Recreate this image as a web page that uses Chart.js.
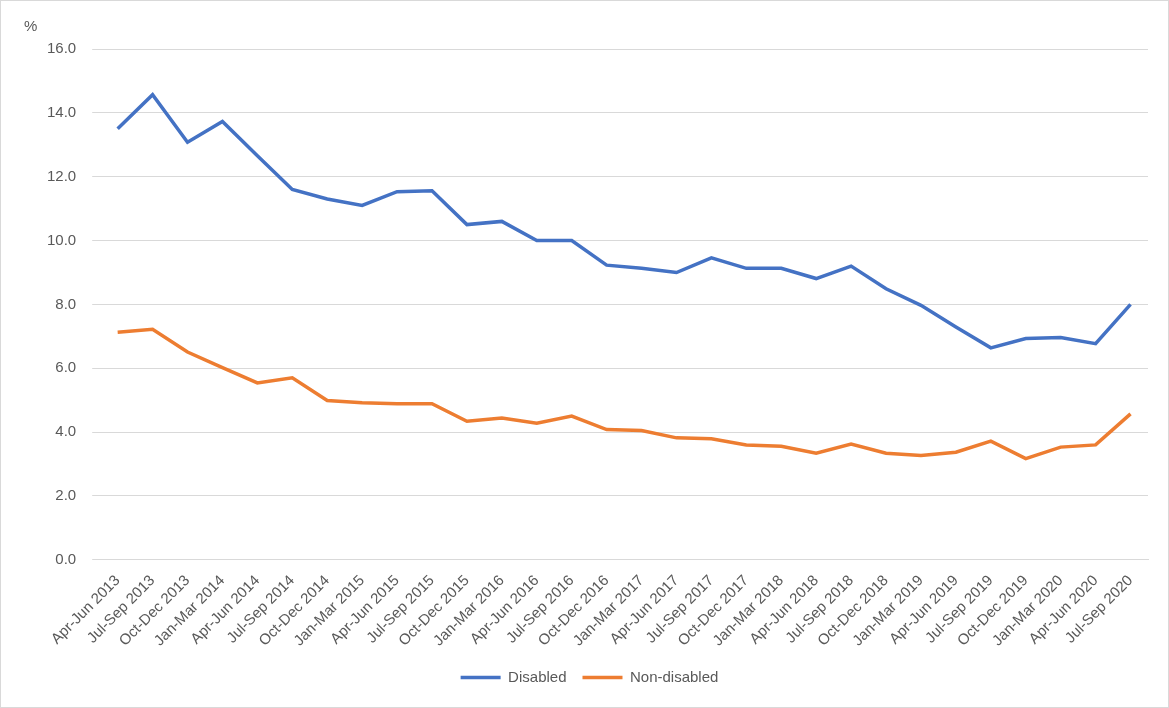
<!DOCTYPE html>
<html>
<head>
<meta charset="utf-8">
<script src="https://cdn.jsdelivr.net/npm/chart.js@4/dist/chart.umd.min.js"></script>
<style>
  body { margin: 0; background: #fff; }
  #wrap { position: relative; width: 1167px; height: 706px; border: 1px solid #d9d9d9; }
  #unit { position: absolute; left: 23px; top: 16px; font: 15px "Liberation Sans", Arial, sans-serif; color: #595959; }
</style>
</head>
<body>
<div id="wrap">
  <div id="unit">%</div>
  <canvas id="chart" width="1167" height="706"></canvas>
</div>
<script>
// quarters on the x axis
var quarters = [
    "Apr-Jun 2013", "Jul-Sep 2013", "Oct-Dec 2013", "Jan-Mar 2014", "Apr-Jun 2014", "Jul-Sep 2014",
    "Oct-Dec 2014", "Jan-Mar 2015", "Apr-Jun 2015", "Jul-Sep 2015", "Oct-Dec 2015", "Jan-Mar 2016",
    "Apr-Jun 2016", "Jul-Sep 2016", "Oct-Dec 2016", "Jan-Mar 2017", "Apr-Jun 2017", "Jul-Sep 2017",
    "Oct-Dec 2017", "Jan-Mar 2018", "Apr-Jun 2018", "Jul-Sep 2018", "Oct-Dec 2018", "Jan-Mar 2019",
    "Apr-Jun 2019", "Jul-Sep 2019", "Oct-Dec 2019", "Jan-Mar 2020", "Apr-Jun 2020", "Jul-Sep 2020"
];

var disabled = [
    13.5, 14.57, 13.08, 13.73, 12.66, 11.6, 11.3, 11.1, 11.53, 11.56,
    10.5, 10.6, 10.0, 10.0, 9.23, 9.13, 9.0, 9.46, 9.13, 9.13,
    8.81, 9.2, 8.49, 7.97, 7.29, 6.64, 6.93, 6.96, 6.77, 8.0
];

var nonDisabled = [
    7.13, 7.22, 6.51, 6.02, 5.54, 5.7, 4.99, 4.92, 4.89, 4.89,
    4.34, 4.44, 4.28, 4.5, 4.08, 4.05, 3.82, 3.79, 3.6, 3.56,
    3.34, 3.63, 3.34, 3.27, 3.37, 3.72, 3.17, 3.53, 3.6, 4.57
];

var family = "Liberation Sans, Arial, sans-serif";

new Chart(document.getElementById("chart").getContext("2d"), {
    type: "line",
    data: {
        labels: quarters,
        datasets: [
            { label: "Disabled", data: disabled, borderColor: "#4472c4", backgroundColor: "#4472c4", borderWidth: 3.5, pointRadius: 0, tension: 0 },
            { label: "Non-disabled", data: nonDisabled, borderColor: "#ed7d31", backgroundColor: "#ed7d31", borderWidth: 3.5, pointRadius: 0, tension: 0 }
        ]
    },
    options: {
        responsive: false,
        animation: false,
        layout: { padding: { left: 30, right: 20, top: 48, bottom: 12 } },
        plugins: {
            legend: {
                position: "bottom",
                labels: {
                    color: "#595959", font: { family: family, size: 15 },
                    boxWidth: 40, boxHeight: 0, padding: 16
                }
            },
            tooltip: { enabled: false }
        },
        scales: {
            x: {
                offset: true,
                grid: { display: false },
                border: { color: "#d9d9d9" },
                ticks: { color: "#595959", font: { family: family, size: 15 }, maxRotation: 45, minRotation: 45, autoSkip: false, padding: 4 }
            },
            y: {
                min: 0, max: 16,
                grid: { color: "#d9d9d9" },
                border: { display: false },
                ticks: { stepSize: 2, color: "#595959", font: { family: family, size: 15 }, padding: 16,
                    callback: function (v) { return v.toFixed(1); } }
            }
        }
    }
});
</script>
</body>
</html>
